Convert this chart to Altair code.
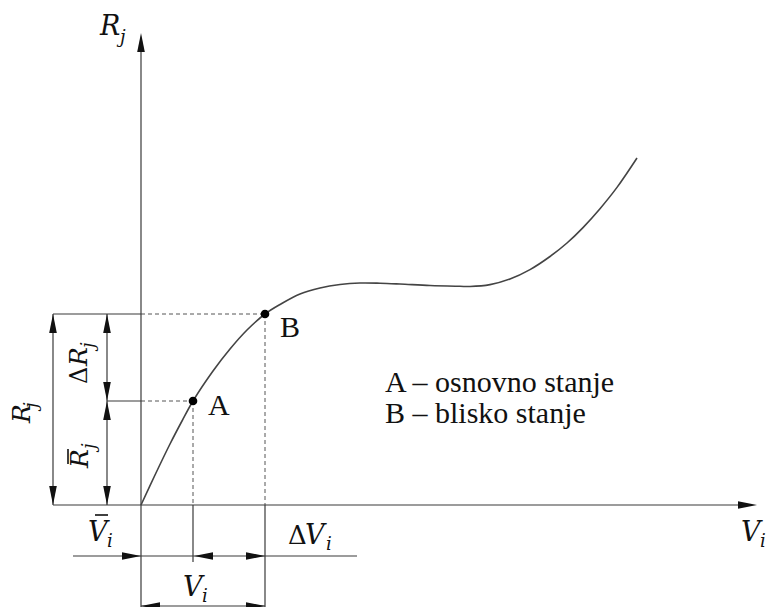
import altair as alt
import pandas as pd

# ---- schematic geometry (reference picture coordinates) ----
# curve R_j(V_i)
curve_x = [141, 155, 170, 182, 193, 213, 230, 247, 265, 280, 300, 320, 340, 360, 380, 400, 430, 460, 470,
           490, 510, 530, 550, 567, 583, 600, 617, 637]
curve_y = [505, 475, 444, 421, 401, 371, 349, 330, 314, 304.5, 294, 288, 284.5, 283, 283.2, 284, 285.5, 286.3, 286.5,
           284.6, 279, 269.6, 256.5, 243, 227.6, 208.7, 187.4, 158]

# states A and B
state_names = ["A", "B"]
state_x = [193, 265]
state_y = [401, 314]

# solid lines: axes, extension lines, dimension lines
solid_x1 = [141, 53, 53, 107, 193, 265, 53, 107, 73, 141]
solid_y1 = [607, 505, 314, 401, 505, 505, 314, 314, 556, 606]
solid_x2 = [141, 745, 141, 141, 193, 265, 53, 107, 357, 265]
solid_y2 = [50, 505, 314, 401, 562, 607, 505, 505, 556, 606]

# dashed projection lines
dash_x1 = [141, 141, 193, 265]
dash_y1 = [314, 401, 401, 314]
dash_x2 = [265, 193, 193, 265]
dash_y2 = [314, 401, 505, 505]

# arrowheads (tip position and direction)
arrow_x = [141, 757, 53, 53, 107, 107, 107, 107, 141, 194, 265, 141, 265]
arrow_y = [33, 505, 314, 505, 314, 401, 401, 505, 556, 556, 556, 606, 606]
arrow_dir = ["up", "right", "up", "down", "up", "down", "up", "down", "right", "left", "right", "left", "right"]

# plain serif labels
label_text = ["A", "B", "A \u2013 osnovno stanje", "B \u2013 blisko stanje"]
label_x = [208, 280, 385, 385]
label_y = [415, 337, 392, 423]

# italic math symbols (main letters and subscripts)
math_text = ["R", "j", "V", "i", "V", "i", "V", "i", "V", "i", "R", "j", "R", "j", "R", "j"]
math_x = [100, 120, 741, 760, 88, 107, 305, 326, 183, 202, 30, 37, 87, 94, 88, 95]
math_y = [35, 43, 541, 547, 541, 547, 544, 550, 596, 602, 423, 408, 366, 348, 468, 449]
math_size = [27, 18, 27, 18, 27, 18, 27, 18, 27, 18, 25, 18, 25, 18, 25, 18]
math_angle = [0, 0, 0, 0, 0, 0, 0, 0, 0, 0, 270, 270, 270, 270, 270, 270]

# upright Delta signs
delta_text = ["\u0394", "\u0394"]
delta_x = [288, 87]
delta_y = [544, 384]
delta_angle = [0, 270]
delta_size = [26, 24]

# overbars (mean values)
bar_x1 = [95, 68]
bar_y1 = [515, 449]
bar_x2 = [108, 68]
bar_y2 = [515, 464]

# ---- chart ----
xs = alt.Scale(domain=[8, 767], nice=False, zero=False)
ys = alt.Scale(domain=[8, 607], nice=False, zero=False, reverse=True)


def X(f="x"):
    return alt.X(f, type="quantitative", scale=xs, axis=None)


def Y(f="y"):
    return alt.Y(f, type="quantitative", scale=ys, axis=None)


line_col = "#3a3a3a"

curve = alt.Chart(pd.DataFrame({"x": curve_x, "y": curve_y, "o": range(len(curve_x))})).mark_line(
    color="#444", strokeWidth=1.6, interpolate="catmull-rom"
).encode(x=X(), y=Y(), order="o:Q")

solid = alt.Chart(pd.DataFrame({"x": solid_x1, "y": solid_y1, "x2": solid_x2, "y2": solid_y2})).mark_rule(
    color=line_col, strokeWidth=1.2
).encode(x=X(), y=Y(), x2="x2", y2="y2")

dashed = alt.Chart(pd.DataFrame({"x": dash_x1, "y": dash_y1, "x2": dash_x2, "y2": dash_y2})).mark_rule(
    color="#555", strokeWidth=1, strokeDash=[4, 3]
).encode(x=X(), y=Y(), x2="x2", y2="y2")

bars = alt.Chart(pd.DataFrame({"x": bar_x1, "y": bar_y1, "x2": bar_x2, "y2": bar_y2})).mark_rule(
    color="#111", strokeWidth=1.6
).encode(x=X(), y=Y(), x2="x2", y2="y2")

paths = {
    "up": "M0,0L0.2,1L-0.2,1Z",
    "down": "M0,0L0.2,-1L-0.2,-1Z",
    "left": "M0,0L1,0.2L1,-0.2Z",
    "right": "M0,0L-1,0.2L-1,-0.2Z",
}
arrows = alt.Chart(pd.DataFrame({"x": arrow_x, "y": arrow_y, "d": arrow_dir})).mark_point(
    filled=True, color="#111", opacity=1, size=1444
).encode(
    x=X(), y=Y(),
    shape=alt.Shape("d:N", scale=alt.Scale(domain=list(paths.keys()), range=list(paths.values())), legend=None),
)

dots = alt.Chart(pd.DataFrame({"x": state_x, "y": state_y, "n": state_names})).mark_circle(
    color="#000", opacity=1, size=75
).encode(x=X(), y=Y())

labels = alt.Chart(pd.DataFrame({"x": label_x, "y": label_y, "t": label_text})).mark_text(
    font="Liberation Serif", fontSize=30, align="left", baseline="alphabetic", color="#111"
).encode(x=X(), y=Y(), text="t:N")

math = alt.Chart(pd.DataFrame({"x": math_x, "y": math_y, "t": math_text, "s": math_size, "a": math_angle})).mark_text(
    font="DejaVu Serif", fontStyle="italic", align="left", baseline="alphabetic", color="#111"
).encode(
    x=X(), y=Y(), text="t:N",
    size=alt.Size("s:Q", scale=None, legend=None),
    angle=alt.Angle("a:Q", scale=None),
)

deltas = alt.Chart(pd.DataFrame({"x": delta_x, "y": delta_y, "t": delta_text, "a": delta_angle, "s": delta_size})).mark_text(
    font="DejaVu Serif", align="left", baseline="alphabetic", color="#111"
).encode(
    x=X(), y=Y(), text="t:N",
    size=alt.Size("s:Q", scale=None, legend=None),
    angle=alt.Angle("a:Q", scale=None),
)

chart = alt.layer(dashed, solid, curve, arrows, bars, dots, labels, math, deltas).properties(
    width=759, height=599, padding=0, autosize=alt.AutoSizeParams(type="none")
).configure_view(stroke=None)

chart.save("out.html", embed_options={"renderer": "svg", "actions": False})
